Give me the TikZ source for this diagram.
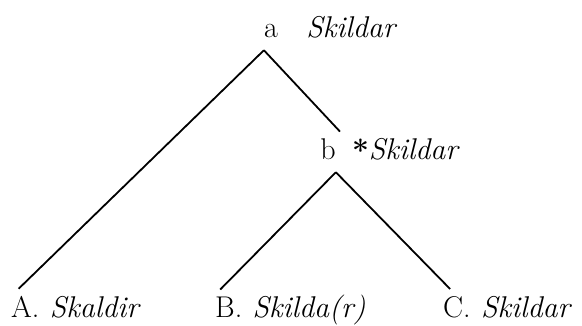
\documentclass[tikz,border=0pt]{standalone}
\usepackage{fontspec}
\usepackage{tikz}
\usetikzlibrary{positioning}

\begin{document}
\begin{tikzpicture}[x=1pt,y=-1pt,
    lab/.style={inner sep=0pt,outer ysep=12pt,font=\fontsize{30}{36}\selectfont},
    leaf/.style={lab,outer ysep=8pt},
    form/.style={inner sep=0pt,font=\fontsize{30}{36}\selectfont\itshape},
    branch/.style={line width=1.8pt}]
  \useasboundingbox (0,0) rectangle (582,326);
  % reconstructed forms
  \node[lab,anchor=base] (a) at (271,38) {a};
  \node[form,right=28pt of a.base east,anchor=base west] (aform) {Skildar};
  \node[lab,anchor=base] (b) at (328,160) {b};
  \node[form,right=16pt of b.base east,anchor=base west] (bform) {{\upshape\bfseries\raisebox{-1.5pt}{*}}Skildar};
  % attested forms
  \node[leaf,anchor=base west] (A) at (11,318) {A.};
  \node[form,right=10pt of A.base east,anchor=base west] (Aform) {Skaldir};
  \node[leaf,anchor=base west] (B) at (215,318) {B.};
  \node[form,right=10pt of B.base east,anchor=base west] (Bform) {Skilda(r)};
  \node[leaf,anchor=base west] (C) at (443,318) {C.};
  \node[form,right=10pt of C.base east,anchor=base west] (Cform) {Skildar};
  % branches
  \draw[branch] (a.south west) -- (A.110);
  \draw[branch,shorten >=-6pt] (a.south west) -- (b.north east);
  \draw[branch] (b.south east) -- (B.115);
  \draw[branch] (b.south east) -- (C.110);
\end{tikzpicture}
\end{document}
